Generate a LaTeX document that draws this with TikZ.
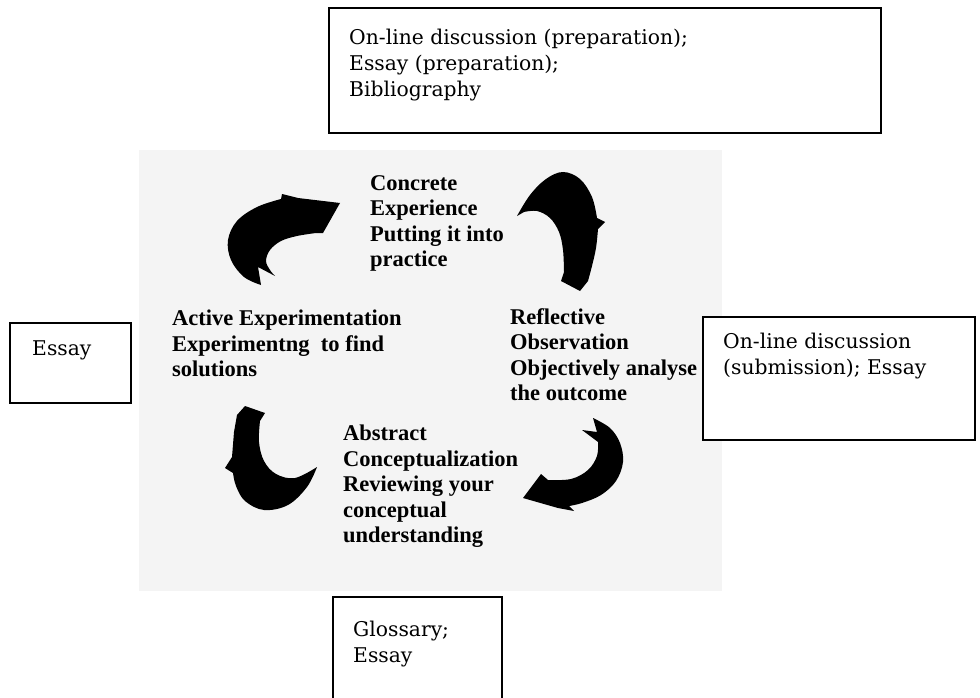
\documentclass[tikz,border=0pt]{standalone}
\usepackage{fontspec}
\setmainfont{DejaVu Serif}
\newfontfamily\boxfont{DejaVu Serif}
\newfontfamily\cyclefont{Liberation Serif}
\definecolor{bggray}{RGB}{244,244,244}
\begin{document}
\begin{tikzpicture}[x=1pt,y=-1pt,
  boxframe/.style={draw=black, line width=1.3pt, fill=white, inner sep=0pt, outer sep=0pt, anchor=north west},
  boxtext/.style={font=\boxfont\fontsize{20.3}{26}\selectfont, align=left, inner sep=0pt, anchor=north west, text=black},
  cycletext/.style={font=\cyclefont\bfseries\fontsize{22.5}{25.5}\selectfont, align=left, inner sep=0pt, anchor=north west},
  crescent/.style={fill=black}]
\useasboundingbox (0,0) rectangle (980,698);
% grey panel
\fill[bggray] (139,150) rectangle (722,591);
% crescent arrows
\fill[crescent] (340,203) -- (323,233) -- (316,233)
  -- plot[smooth, tension=0.6] coordinates {(316,233) (297,236) (281,241) (270,250) (266,261) (270,270) (275,276)}
  -- (258,267)
  -- plot[smooth, tension=0.6] coordinates {(261,285) (244,277) (231,260) (228,240) (237,221) (257,207) (281,199)}
  -- (282,194) -- (298,198) -- cycle;
\fill[crescent] (517,216)
  -- plot[smooth, tension=0.6] coordinates {(517,216) (530,195) (546,179) (563,172) (580,179) (592,197) (597,218)}
  -- (605,222) -- (598,229)
  -- plot[smooth, tension=0.6] coordinates {(598,229) (596,248) (592,266) (588,281)}
  -- (580,291) -- (561,281) -- (564,272)
  -- plot[smooth, tension=0.6] coordinates {(564,272) (563,250) (559,232) (550,218) (537,211) (524,212)}
  -- cycle;
\fill[crescent] (523,498) -- (541,474) -- (548,480)
  -- plot[smooth, tension=0.6] coordinates {(548,480) (571,479) (588,470) (597,456) (598,442)}
  -- (582,430) -- (597,432) -- (593,418)
  -- plot[smooth, tension=0.6] coordinates {(593,418) (610,428) (620,443) (623,462) (616,481) (601,495) (582,503) (569,506)}
  -- (574,511) -- (558,508) -- cycle;
\fill[crescent] (245,406) -- (265,413) -- (260,421)
  -- plot[smooth, tension=0.6] coordinates {(260,421) (259,442) (264,461) (276,474) (295,478) (317,467)}
  -- plot[smooth, tension=0.6] coordinates {(317,467) (307,487) (288,505) (264,510) (245,501) (236,486) (233,473)}
  -- (225,468) -- (232,457) -- (234,432) -- (237,415) -- cycle;
% cycle labels
\node[cycletext] (ce) at (370,175) {Concrete\\Experience\\Putting it into\\practice};
\node[cycletext] (ae) at (172,310) {Active Experimentation\\Experimentng\ \ to find\\solutions};
\node[cycletext] (ro) at (510,308) {Reflective\\Observation\\Objectively analyse\\the outcome};
\node[cycletext] (ac) at (343,425) {Abstract\\Conceptualization\\Reviewing your\\conceptual\\understanding};
% boxes
\node[boxframe, minimum width=552pt, minimum height=125pt] (topbox) at (329,8) {};
\node[boxtext] (toptext) at (349,29) {On-line discussion (preparation);\\Essay (preparation);\\Bibliography};
\node[boxframe, minimum width=121pt, minimum height=80pt] (leftbox) at (10,323) {};
\node[boxtext] (lefttext) at (32,340) {Essay};
\node[boxframe, minimum width=272pt, minimum height=123pt] (rightbox) at (703,317) {};
\node[boxtext] (righttext) at (723,333) {On-line discussion\\(submission); Essay};
\node[boxframe, minimum width=169pt, minimum height=115pt] (bottombox) at (333,597) {};
\node[boxtext] (bottomtext) at (353,621) {Glossary;\\Essay};
\end{tikzpicture}
\end{document}
